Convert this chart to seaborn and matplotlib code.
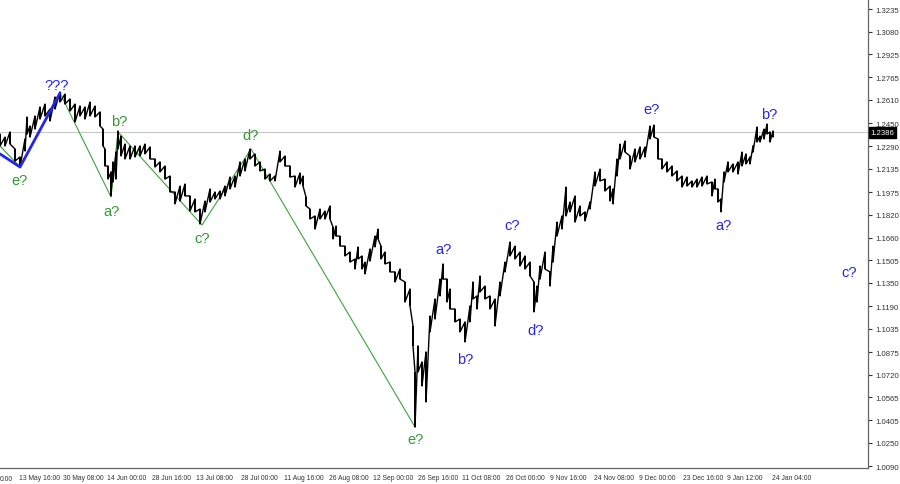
import pandas as pd
import matplotlib.pyplot as plt
import seaborn as sns

# H4 bars, x = bar number on the chart, prices
bar_no = [0, 5, 10, 15, 20, 25, 27, 30, 35, 40, 45, 50, 55, 60, 65, 70, 75, 80, 85, 90,
          95, 100, 103, 105, 108, 111, 113, 116, 118, 121, 125, 130, 135, 140, 145, 150,
          155, 160, 165, 170, 175, 180, 185, 190, 195, 200, 205, 210, 215, 220, 225, 230,
          235, 240, 245, 250, 255, 260, 265, 270, 275, 280, 285, 290, 295, 300, 303, 306,
          310, 315, 320, 325, 330, 333, 336, 340, 345, 350, 355, 358, 362, 365, 370, 375,
          378, 381, 385, 390, 395, 400, 405, 410, 413, 415, 418, 422, 426, 430, 435, 440,
          443, 447, 450, 455, 460, 465, 470, 473, 477, 480, 485, 490, 495, 500, 505, 510,
          515, 520, 525, 530, 534, 537, 540, 545, 550, 553, 557, 562, 566, 570, 575, 580,
          585, 590, 595, 600, 605, 610, 613, 617, 620, 625, 630, 635, 640, 645, 650, 654,
          658, 662, 667, 672, 677, 682, 687, 692, 697, 702, 707, 712, 715, 718, 721, 724,
          728, 733, 738, 742, 746, 750, 753, 757, 760, 764, 767, 770, 773]
bar_high = [1.2375, 1.2354, 1.2389, 1.2272, 1.2217, 1.2341, 1.2492, 1.2430, 1.2499, 1.2561,
            1.2581, 1.2547, 1.2630, 1.2664, 1.2650, 1.2616, 1.2581, 1.2568, 1.2561, 1.2595,
            1.2568, 1.2527, 1.2409, 1.2272, 1.2155, 1.2114, 1.2183, 1.2251, 1.2396, 1.2361,
            1.2306, 1.2293, 1.2293, 1.2293, 1.2306, 1.2286, 1.2203, 1.2183, 1.2155, 1.2086,
            1.1976, 1.2017, 1.2031, 1.1949, 1.1928, 1.1859, 1.1914, 1.1997, 1.1976, 1.1983,
            1.2017, 1.2079, 1.2086, 1.2183, 1.2203, 1.2272, 1.2238, 1.2183, 1.2134, 1.2100,
            1.2086, 1.2258, 1.2224, 1.2155, 1.2086, 1.2107, 1.2086, 1.1942, 1.1859, 1.1811,
            1.1859, 1.1845, 1.1880, 1.1735, 1.1742, 1.1673, 1.1604, 1.1563, 1.1515, 1.1598,
            1.1536, 1.1494, 1.1584, 1.1673, 1.1721, 1.1604, 1.1563, 1.1494, 1.1426, 1.1446,
            1.1357, 1.1309, 1.1054, 1.0738, 1.0917, 1.0807, 1.0876, 1.1123, 1.1240, 1.1377,
            1.1481, 1.1377, 1.1309, 1.1171, 1.1102, 1.1082, 1.1192, 1.1357, 1.1261, 1.1398,
            1.1329, 1.1261, 1.1240, 1.1357, 1.1494, 1.1632, 1.1604, 1.1563, 1.1536, 1.1494,
            1.1357, 1.1329, 1.1467, 1.1563, 1.1426, 1.1604, 1.1769, 1.1811, 1.2010, 1.1907,
            1.1949, 1.1880, 1.1839, 1.1907, 1.2114, 1.2134, 1.2065, 1.2017, 1.1997, 1.2203,
            1.2306, 1.2327, 1.2224, 1.2272, 1.2286, 1.2286, 1.2430, 1.2437, 1.2341, 1.2203,
            1.2183, 1.2155, 1.2121, 1.2086, 1.2079, 1.2052, 1.2065, 1.2079, 1.2086, 1.2045,
            1.2065, 1.1997, 1.1928, 1.2114, 1.2183, 1.2169, 1.2183, 1.2251, 1.2238, 1.2217,
            1.2293, 1.2423, 1.2361, 1.2409, 1.2444, 1.2389, 1.2396]
bar_low = [1.2293, 1.2293, 1.2306, 1.2189, 1.2148, 1.2258, 1.2375, 1.2354, 1.2409, 1.2478,
           1.2499, 1.2464, 1.2547, 1.2595, 1.2581, 1.2533, 1.2458, 1.2499, 1.2478, 1.2499,
           1.2492, 1.2430, 1.2293, 1.2155, 1.2065, 1.1949, 1.2045, 1.2065, 1.2272, 1.2224,
           1.2203, 1.2203, 1.2217, 1.2224, 1.2238, 1.2203, 1.2148, 1.2114, 1.2065, 1.1976,
           1.1894, 1.1914, 1.1949, 1.1845, 1.1839, 1.1756, 1.1839, 1.1907, 1.1928, 1.1928,
           1.1949, 1.1997, 1.2010, 1.2086, 1.2121, 1.2203, 1.2155, 1.2121, 1.2065, 1.2052,
           1.2052, 1.2183, 1.2155, 1.2079, 1.2010, 1.2031, 1.2017, 1.1880, 1.1790, 1.1721,
           1.1790, 1.1790, 1.1790, 1.1653, 1.1673, 1.1604, 1.1536, 1.1494, 1.1446, 1.1515,
           1.1446, 1.1412, 1.1501, 1.1598, 1.1653, 1.1515, 1.1481, 1.1426, 1.1357, 1.1377,
           1.1219, 1.1192, 1.0917, 1.0359, 1.0738, 1.0641, 1.0531, 1.1013, 1.1102, 1.1261,
           1.1377, 1.1219, 1.1171, 1.1082, 1.1013, 1.0944, 1.1082, 1.1240, 1.1171, 1.1288,
           1.1240, 1.1171, 1.1054, 1.1261, 1.1426, 1.1536, 1.1515, 1.1467, 1.1446, 1.1398,
           1.1151, 1.1219, 1.1377, 1.1446, 1.1329, 1.1494, 1.1673, 1.1721, 1.1811, 1.1839,
           1.1769, 1.1811, 1.1777, 1.1859, 1.2017, 1.2052, 1.1983, 1.1914, 1.1894, 1.2086,
           1.2203, 1.2251, 1.2134, 1.2183, 1.2203, 1.2217, 1.2341, 1.2354, 1.2203, 1.2134,
           1.2114, 1.2086, 1.2052, 1.2010, 1.2017, 1.2010, 1.2010, 1.2017, 1.2031, 1.1949,
           1.1997, 1.1907, 1.1839, 1.2045, 1.2114, 1.2114, 1.2100, 1.2155, 1.2169, 1.2169,
           1.2251, 1.2320, 1.2320, 1.2341, 1.2375, 1.2320, 1.2354]
last_price = 1.2386

# wave markup drawn by the analyst
prev_wave_bar = [0, 20]
prev_wave_price = [1.2293, 1.2148]
green_wave_bar = [60, 111, 118, 202, 251, 415]
green_wave_price = [1.2657, 1.1942, 1.2389, 1.1749, 1.2272, 1.0359]
blue_wave_bar = [0, 20, 60]
blue_wave_price = [1.2238, 1.2148, 1.2657]

label_text = ["???", "e?", "a?", "b?", "c?", "d?", "e?",
              "a?", "b?", "c?", "d?", "e?", "a?", "b?", "c?"]
label_bar = [57, 19, 111, 119, 202, 251, 416, 443, 465, 512, 536, 652, 723, 769, 849]
label_price = [1.2712, 1.2059, 1.1845, 1.2465, 1.1660, 1.2368, 1.0277,
               1.1584, 1.0827, 1.1749, 1.1027, 1.2547, 1.1749, 1.2513, 1.1426]
label_group = ["blue", "green", "green", "green", "green", "green", "green",
               "blue", "blue", "blue", "blue", "blue", "blue", "blue", "blue"]

price_ticks = [1.3235, 1.3080, 1.2925, 1.2765, 1.2610, 1.2450, 1.2290, 1.2135, 1.1975,
               1.1820, 1.1660, 1.1505, 1.1350, 1.1190, 1.1035, 1.0875, 1.0720, 1.0565,
               1.0405, 1.0250, 1.0090]
time_tick_bar = [19, 63, 107, 152, 196, 241, 284, 329, 373, 418, 462, 506, 550, 594,
                 639, 683, 727, 772]
time_tick_label = ["13 May 16:00", "30 May 08:00", "14 Jun 00:00", "28 Jun 16:00",
                   "13 Jul 08:00", "28 Jul 00:00", "11 Aug 16:00", "26 Aug 08:00",
                   "12 Sep 00:00", "26 Sep 16:00", "11 Oct 08:00", "26 Oct 00:00",
                   "9 Nov 16:00", "24 Nov 08:00", "9 Dec 00:00", "23 Dec 16:00",
                   "9 Jan 12:00", "24 Jan 04:00"]

GREEN = "#2f9a2f"
BLUE = "#2424f0"

sns.set_theme(style="white")
plt.rcParams['font.family'] = ['Liberation Sans', 'DejaVu Sans']

fig = plt.figure(figsize=(9, 4.85), dpi=100)
ax = fig.add_axes([0, 16 / 485, 868 / 900, 469 / 485])

# bars joined high -> low -> high ... so the series reads like dense H4 bars
zx, zy = [], []
for b, h, l in zip(bar_no, bar_high, bar_low):
    zx += [b, b]
    zy += [h, l]
bars = pd.DataFrame({"bar": zx, "price": zy})

ax.axhline(last_price, color="#c8c8c8", lw=0.8, zorder=1)

sns.lineplot(data=pd.DataFrame({"bar": prev_wave_bar, "price": prev_wave_price}),
             x="bar", y="price", sort=False, estimator=None, color=GREEN, lw=0.8, ax=ax)
sns.lineplot(data=pd.DataFrame({"bar": green_wave_bar, "price": green_wave_price}),
             x="bar", y="price", sort=False, estimator=None, color="#3aa53a", lw=0.8, ax=ax)
sns.lineplot(data=bars, x="bar", y="price", sort=False, estimator=None,
             color="black", lw=1.0, ax=ax)
ax.vlines(bar_no, bar_low, bar_high, color="black", lw=1.4)
sns.lineplot(data=pd.DataFrame({"bar": blue_wave_bar, "price": blue_wave_price}),
             x="bar", y="price", sort=False, estimator=None, color=BLUE, lw=2, ax=ax)

for t, b, p, g in zip(label_text, label_bar, label_price, label_group):
    ax.text(b, p, t, color=GREEN if g == "green" else BLUE, fontsize=10.5,
            ha="center", va="center")

ax.set_xlim(0, 868)
ax.set_ylim(1.0077, 1.3304)
ax.set_xlabel("")
ax.set_ylabel("")

ax.yaxis.tick_right()
ax.set_yticks(price_ticks)
ax.set_yticklabels([f"{v:.4f}" for v in price_ticks])
ax.set_xticks(time_tick_bar)
ax.set_xticklabels(time_tick_label, ha="left")
ax.tick_params(axis="both", colors="#333333", length=3, width=0.8, direction="out")
ax.tick_params(axis="x", pad=1, labelsize=4.9)
ax.tick_params(axis="y", pad=2, labelsize=5.6)
for side in ["left", "top"]:
    ax.spines[side].set_visible(False)
for side in ["right", "bottom"]:
    ax.spines[side].set_color("#666666")
    ax.spines[side].set_linewidth(0.9)

# current price marker on the price scale
ax.text(1.003, last_price, f"{last_price:.4f}", transform=ax.get_yaxis_transform(),
        fontsize=5.6, color="white", va="center", ha="left",
        bbox=dict(boxstyle="square,pad=0.25", fc="black", ec="black"))
fig.text(0, 5 / 485, "0:00", fontsize=4.9, color="#333333", ha="left", va="center")

fig.savefig("out.png", dpi=100)
plt.close(fig)
